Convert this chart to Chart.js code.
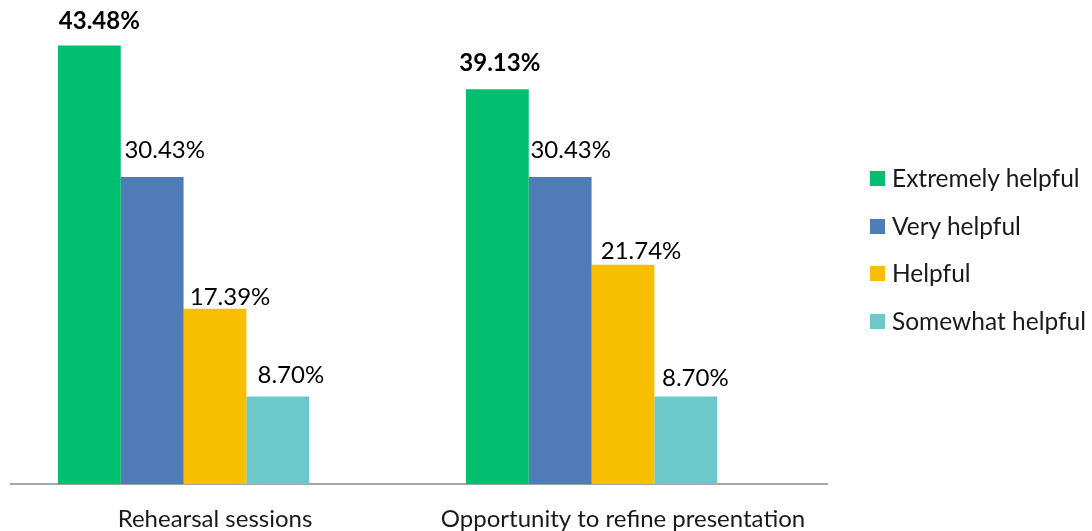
<!DOCTYPE html>
<html>
<head>
<meta charset="utf-8">
<script src="https://cdn.jsdelivr.net/npm/chart.js@4/dist/chart.umd.min.js"></script>
<style>
  html, body { margin: 0; padding: 0; background: #fff; }
  #wrap { position: relative; width: 1092px; height: 531px; }
  #legend { position: absolute; left: 870px; top: 163px; font-family: Lato, sans-serif; font-size: 24.5px; color: #1a1a1a; }
  #legend div { height: 47.5px; display: flex; align-items: flex-start; white-space: nowrap; }
  #legend span.box { display: inline-block; width: 15px; height: 15px; margin: 8px 7px 0 0; }
</style>
</head>
<body>
<div id="wrap">
  <canvas id="chart" width="1092" height="531"></canvas>
  <div id="legend"></div>
</div>
<script>
// ─── Data ────────────────────────────────────────────────────
const categories = ['Rehearsal sessions', 'Opportunity to refine presentation'];
const seriesNames = ['Extremely helpful', 'Very helpful', 'Helpful', 'Somewhat helpful'];
const extremelyHelpful = [43.48, 39.13];
const veryHelpful = [30.43, 30.43];
const helpful = [17.39, 21.74];
const somewhatHelpful = [8.70, 8.70];
const colors = ['#00BF6F', '#4F7BB6', '#F8BF00', '#6DC8CC'];

const seriesValues = [extremelyHelpful, veryHelpful, helpful, somewhatHelpful];

// label nudges (px) per series / category, the original labels were placed by hand
const labelDx = [[10, 2.5], [12.5, 10.5], [15, 18], [13, 9.5]];
const labelDy = [[24, 26.5], [26.5, 26.5], [11, 13.5], [21.5, 18]];

// ─── Value labels above bars ─────────────────────────────────
const valueLabels = {
  id: 'valueLabels',
  afterDatasetsDraw(chart) {
    const ctx = chart.ctx;
    ctx.save();
    ctx.textAlign = 'center';
    ctx.textBaseline = 'middle';
    ctx.fillStyle = '#000';
    chart.data.datasets.forEach((ds, i) => {
      if (i >= seriesValues.length) return;
      const meta = chart.getDatasetMeta(i);
      ctx.font = (i === 0 ? 'bold ' : '') + '24px Lato, sans-serif';
      meta.data.forEach((bar, j) => {
        const v = ds.data[j];
        if (v == null) return;
        ctx.fillText(v.toFixed(2) + '%', bar.x + labelDx[i][j], bar.y - labelDy[i][j]);
      });
    });
    ctx.restore();
  }
};

const datasets = seriesValues.map((vals, i) => ({
  label: seriesNames[i],
  data: vals,
  backgroundColor: colors[i],
  borderWidth: 0,
}));
// empty slot series (keeps the grouped bars left of centre, as in the original)
datasets.push({ label: '', data: [null, null], backgroundColor: 'rgba(0,0,0,0)' });

new Chart(document.getElementById('chart'), {
  type: 'bar',
  data: { labels: categories, datasets },
  options: {
    responsive: false,
    animation: false,
    layout: { padding: { left: 11, right: 265, top: 20, bottom: -24 } },
    plugins: { legend: { display: false }, tooltip: { enabled: false } },
    datasets: { bar: { categoryPercentage: 0.77, barPercentage: 1.0 } },
    scales: {
      x: {
        grid: { display: false, drawTicks: false },
        border: { display: true, color: '#A6A6A6', width: 2 },
        ticks: { color: '#1a1a1a', padding: 21, font: { family: 'Lato', size: 24 } }
      },
      y: { display: false, min: 0, max: 46 }
    }
  },
  plugins: [valueLabels]
});

// ─── Legend ──────────────────────────────────────────────────
const legendEl = document.getElementById('legend');
seriesNames.forEach((name, i) => {
  const row = document.createElement('div');
  row.innerHTML = `<span class="box" style="background:${colors[i]}"></span><span>${name}</span>`;
  legendEl.appendChild(row);
});
</script>
</body>
</html>
